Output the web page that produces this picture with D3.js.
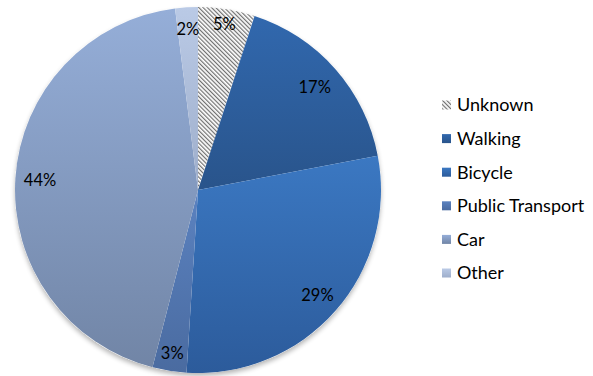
<!DOCTYPE html>
<html>
<head>
<meta charset="utf-8">
<script src="https://cdn.jsdelivr.net/npm/d3@7"></script>
<style>
  html, body { margin: 0; padding: 0; background: #fff; }
  svg { display: block; font-family: Lato, "Open Sans", sans-serif; }
</style>
</head>
<body>
<svg id="chart" width="593" height="376"></svg>
<script>
// Mode share (percent), clockwise from 12 o'clock
const categories = ["Unknown", "Walking", "Bicycle", "Public Transport", "Car", "Other"];
const shares = [5, 17, 29, 3, 44, 2];
// top / bottom shades of each slice's vertical gradient
const topColors = ["#ffffff", "#3168ae", "#3b78c2", "#5b82c0", "#95aed8", "#bacae6"];
const bottomColors = ["#ffffff", "#29548b", "#2c5b9b", "#4a6ba0", "#7185a6", "#9eaecb"];

const svg = d3.select("#chart");
const defs = svg.append("defs");

// fine diagonal hatch (top-left to bottom-right) for the "Unknown" slice
const hatch = defs.append("pattern")
  .attr("id", "hatch").attr("patternUnits", "userSpaceOnUse")
  .attr("width", 3).attr("height", 3)
  .attr("patternTransform", "rotate(-45)");
hatch.append("rect").attr("width", 3).attr("height", 3).attr("fill", "#fff");
hatch.append("rect").attr("width", 1.2).attr("height", 3).attr("fill", "#707070");

categories.forEach((c, i) => {
  if (i === 0) return;
  const g = defs.append("linearGradient").attr("id", "grad" + i)
    .attr("x1", 0).attr("y1", 0).attr("x2", 0).attr("y2", 1);
  g.append("stop").attr("offset", "0%").attr("stop-color", topColors[i]);
  g.append("stop").attr("offset", "100%").attr("stop-color", bottomColors[i]);
});

const shadow = defs.append("filter").attr("id", "shadow")
  .attr("x", "-10%").attr("y", "-10%").attr("width", "120%").attr("height", "125%");
shadow.append("feGaussianBlur").attr("in", "SourceAlpha").attr("stdDeviation", 2.5);
shadow.append("feOffset").attr("dx", 0).attr("dy", 3).attr("result", "off");
shadow.append("feComponentTransfer").append("feFuncA").attr("type", "linear").attr("slope", 0.3);
const merge = shadow.append("feMerge");
merge.append("feMergeNode");
merge.append("feMergeNode").attr("in", "SourceGraphic");

const fillOf = i => i === 0 ? "url(#hatch)" : `url(#grad${i})`;

const cx = 198, cy = 190, r = 183;
const pie = d3.pie().sort(null).value(d => d);
const arcs = pie(shares);
const arc = d3.arc().innerRadius(0).outerRadius(r);

const g = svg.append("g").attr("transform", `translate(${cx},${cy})`);
g.append("circle").attr("r", r).attr("fill", "#fff").attr("filter", "url(#shadow)");
g.selectAll("path.slice").data(arcs).enter().append("path")
  .attr("class", "slice")
  .attr("d", arc)
  .attr("fill", (d, i) => fillOf(i));

// percentage labels, placed along each slice's mid-angle
const labelRadius = [0.92, 0.85, 0.87, 0.9, 0.865, 0.88];
g.selectAll("text.lbl").data(arcs).enter().append("text")
  .attr("class", "lbl")
  .attr("transform", (d, i) => {
    const a = (d.startAngle + d.endAngle) / 2;
    const rr = r * labelRadius[i];
    return `translate(${Math.sin(a) * rr},${-Math.cos(a) * rr})`;
  })
  .attr("text-anchor", "middle")
  .attr("dy", "0.36em")
  .attr("font-size", 16.5)
  .attr("fill", "#000")
  .text(d => d3.format(".0%")(d.data / 100));

// legend
const legendY = d3.scalePoint().domain(categories).range([105, 273]);
const lg = svg.append("g");
const item = lg.selectAll("g").data(categories).enter().append("g")
  .attr("transform", d => `translate(442,${legendY(d)})`);
item.append("rect").attr("x", 0).attr("y", -4.5).attr("width", 9).attr("height", 9)
  .attr("fill", (d, i) => fillOf(i));
item.append("text").attr("x", 15).attr("dy", "0.36em")
  .attr("font-size", 18).attr("fill", "#000")
  .text(d => d);
</script>
</body>
</html>
